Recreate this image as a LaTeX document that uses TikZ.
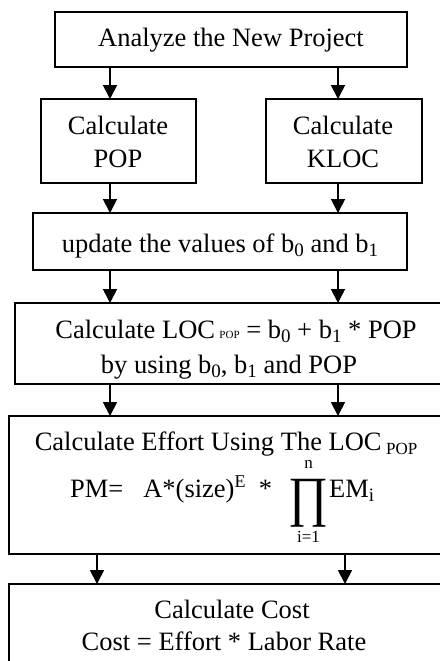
\documentclass[tikz,border=0pt]{standalone}
\usepackage{fontspec}
\setmainfont{Liberation Serif}
\usetikzlibrary{arrows.meta}
\newcommand{\sbs}[1]{\raisebox{-4pt}{\fontsize{19}{19}\selectfont #1}}
\newcommand{\sps}[1]{\raisebox{10pt}{\fontsize{18}{18}\selectfont #1}}
\begin{document}
\begin{tikzpicture}[x=1pt,y=-1pt,
  box/.style={draw, line width=1.8pt, inner sep=0pt, outer sep=0pt},
  txt/.style={inner sep=0pt, anchor=base, font=\fontsize{26.5}{34}\selectfont},
  arr/.style={line width=1.8pt, -{Triangle[length=14pt,width=14pt]}}]
\useasboundingbox (0,0) rectangle (439,661);
% boxes
\node[box, minimum width=352pt, minimum height=55pt] (analyze) at (231,39.5) {};
\node[box, minimum width=155pt, minimum height=84pt] (pop) at (118.5,141) {};
\node[box, minimum width=156pt, minimum height=84pt] (kloc) at (344,141) {};
\node[box, minimum width=374pt, minimum height=57pt] (update) at (220,241.5) {};
\node[box, minimum width=442pt, minimum height=81pt] (loc) at (236,343.5) {};
\node[box, minimum width=436pt, minimum height=138pt] (effort) at (227,485) {};
\node[box, minimum width=436pt, minimum height=116pt] (cost) at (227,642) {};
% texts
\node[txt] (t1) at (231,47) {Analyze the New Project};
\node[txt] (t2a) at (118,134) {Calculate};
\node[txt] (t2b) at (118,167) {POP};
\node[txt] (t3a) at (343,134) {Calculate};
\node[txt] (t3b) at (343,167) {KLOC};
\node[txt] (t4) at (220,252) {update the values of b\sbs{0} and b\sbs{1}};
\node[txt] (t5a) at (236,338) {Calculate LOC\,{\fontsize{11}{11}\selectfont POP} = b\sbs{0} + b\sbs{1} * POP};
\node[txt] (t5b) at (229,373) {by using b\sbs{0}, b\sbs{1} and POP};
\node[txt] (t6a) at (226,450) {Calculate Effort Using The LOC\,\raisebox{-4pt}{\fontsize{17}{17}\selectfont POP}};
\node[txt, anchor=base west] (t6b) at (70,497) {PM=\ \ \ A*(size)\sps{E}\ \ *};
\node[txt, anchor=center, font=\fontsize{44}{44}\selectfont] (prod) at (308.5,503) {\resizebox*{40pt}{48pt}{∏}};
\node[txt, font=\fontsize{17}{17}\selectfont] (pn) at (308.5,468) {n};
\node[txt, font=\fontsize{17}{17}\selectfont] (pi) at (308.5,542) {i=1};
\node[txt, anchor=base west] (t6c) at (329,497) {EM\sbs{i}};
\node[txt] (t7a) at (232,618) {Calculate Cost};
\node[txt] (t7b) at (224,650) {Cost = Effort * Labor Rate};
% arrows
\coordinate (xl) at (110,0);
\coordinate (xr) at (338,0);
\coordinate (xl2) at (97,0);
\coordinate (xr2) at (345,0);
\draw[arr] (xl |- analyze.south) -- (xl |- pop.north);
\draw[arr] (xr |- analyze.south) -- (xr |- kloc.north);
\draw[arr] (xl |- pop.south) -- (xl |- update.north);
\draw[arr] (xr |- kloc.south) -- (xr |- update.north);
\draw[arr] (xl |- update.south) -- (xl |- loc.north);
\draw[arr] (xr |- update.south) -- (xr |- loc.north);
\draw[arr] (xl |- loc.south) -- (xl |- effort.north);
\draw[arr] (xr |- loc.south) -- (xr |- effort.north);
\draw[arr] (xl2 |- effort.south) -- (xl2 |- cost.north);
\draw[arr] (xr2 |- effort.south) -- (xr2 |- cost.north);
\end{tikzpicture}
\end{document}
